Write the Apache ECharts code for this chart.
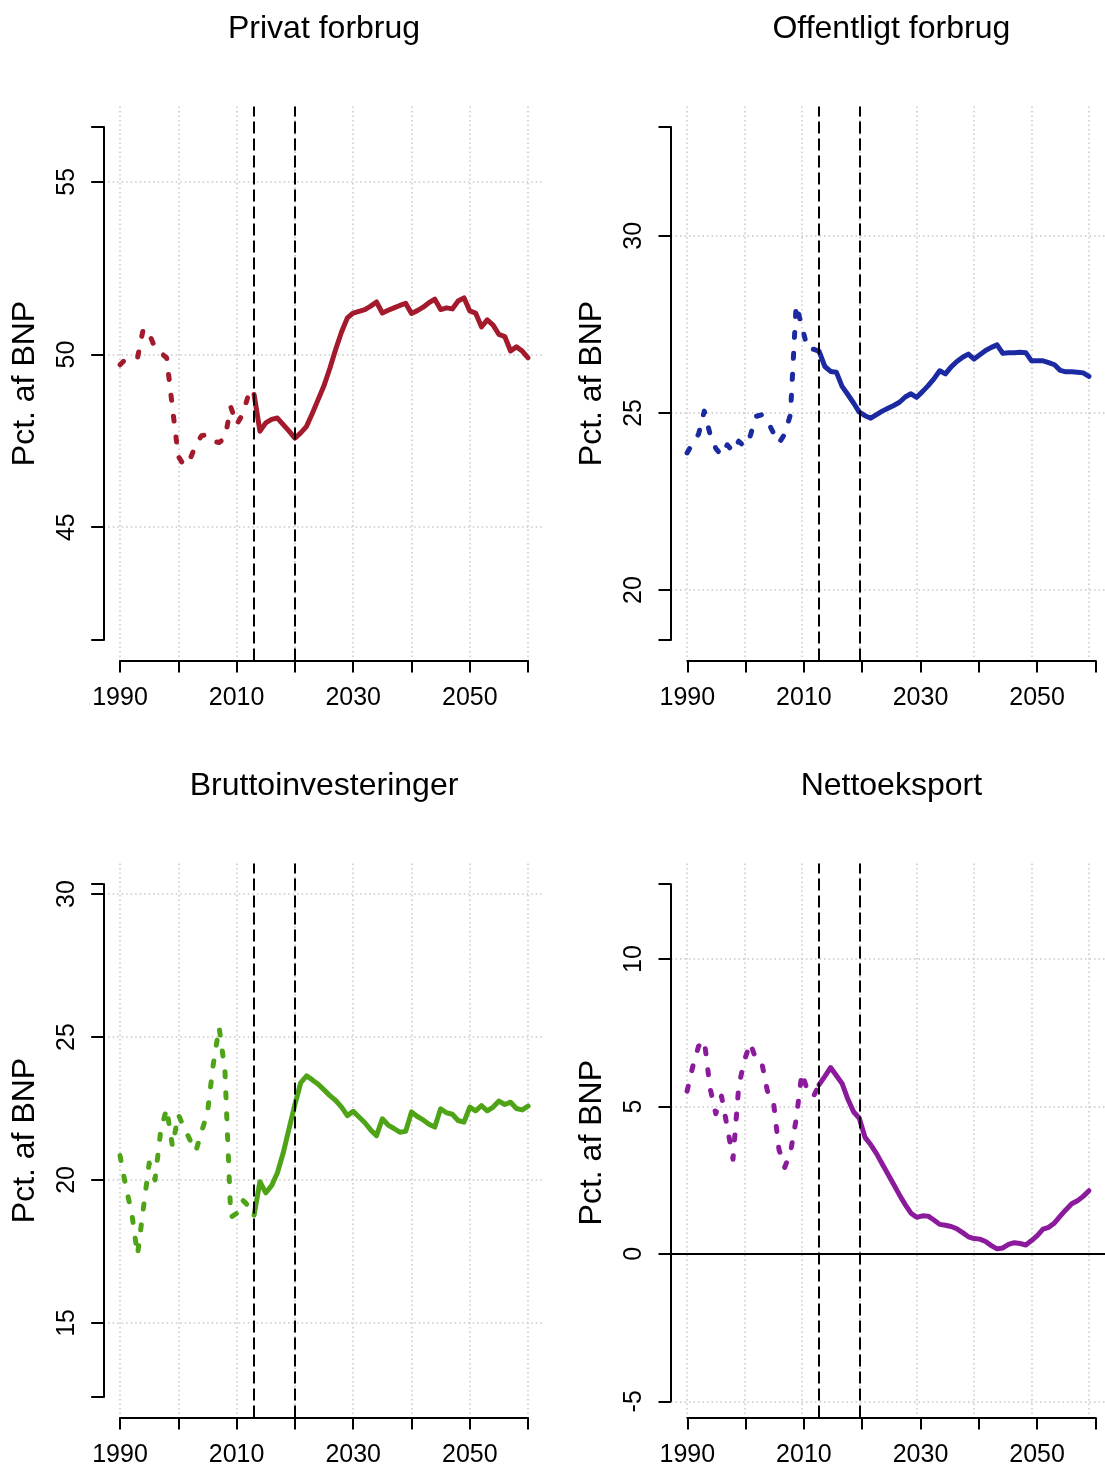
<!DOCTYPE html>
<html>
<head>
<meta charset="utf-8">
<script src="https://cdn.jsdelivr.net/npm/echarts@6/dist/echarts.min.js"></script>
<style>
html, body { margin: 0; padding: 0; background: #fff; }
#main { width: 1105px; height: 1468px; }
</style>
</head>
<body>
<div id="main"></div>
<script>
// aarstal 1990-2060
const years = [1990, 1991, 1992, 1993, 1994, 1995, 1996, 1997, 1998, 1999,
  2000, 2001, 2002, 2003, 2004, 2005, 2006, 2007, 2008, 2009,
  2010, 2011, 2012, 2013, 2014, 2015, 2016, 2017, 2018, 2019,
  2020, 2021, 2022, 2023, 2024, 2025, 2026, 2027, 2028, 2029,
  2030, 2031, 2032, 2033, 2034, 2035, 2036, 2037, 2038, 2039,
  2040, 2041, 2042, 2043, 2044, 2045, 2046, 2047, 2048, 2049,
  2050, 2051, 2052, 2053, 2054, 2055, 2056, 2057, 2058, 2059, 2060]

const privat = [49.70, 49.87, 49.88, 49.90, 50.75, 50.60, 50.19, 50.05, 49.90, 48.45,
  47.05, 46.78, 46.96, 47.39, 47.65, 47.68, 47.49, 47.45, 47.58, 48.48,
  47.97, 48.26, 48.81, 48.84, 47.78, 48.02, 48.12, 48.16, 47.97, 47.78,
  47.58, 47.73, 47.92, 48.30, 48.70, 49.10, 49.60, 50.15, 50.65, 51.06,
  51.20, 51.25, 51.30, 51.40, 51.52, 51.20, 51.28, 51.35, 51.42, 51.48,
  51.19, 51.27, 51.37, 51.50, 51.60, 51.30, 51.35, 51.32, 51.55, 51.64,
  51.26, 51.20, 50.80, 51.00, 50.85, 50.58, 50.52, 50.10, 50.22, 50.10, 49.90]

const offentligt = [23.87, 24.15, 24.40, 25.05, 24.40, 24.00, 23.80, 24.10, 23.90, 24.20,
  24.05, 24.35, 24.90, 24.95, 24.77, 24.45, 24.15, 24.40, 24.95, 28.05,
  27.45, 26.80, 26.80, 26.74, 26.31, 26.17, 26.15, 25.75, 25.52, 25.28,
  25.02, 24.92, 24.85, 24.95, 25.05, 25.13, 25.21, 25.30, 25.45, 25.54,
  25.44, 25.60, 25.77, 25.96, 26.19, 26.10, 26.30, 26.45, 26.57, 26.66,
  26.52, 26.64, 26.76, 26.85, 26.92, 26.68, 26.70, 26.70, 26.71, 26.70,
  26.47, 26.47, 26.47, 26.42, 26.36, 26.20, 26.16, 26.16, 26.15, 26.13, 26.03]

const brutto = [20.85, 19.76, 18.85, 17.38, 19.00, 20.59, 20.00, 21.76, 22.50, 21.17,
  22.29, 21.82, 21.40, 21.00, 21.70, 22.35, 24.05, 25.34, 23.81, 18.70,
  18.83, 19.30, 19.10, 18.77, 19.94, 19.55, 19.80, 20.25, 20.95, 21.80,
  22.64, 23.40, 23.64, 23.50, 23.35, 23.15, 22.95, 22.78, 22.55, 22.25,
  22.40, 22.20, 22.00, 21.75, 21.55, 22.14, 21.92, 21.80, 21.67, 21.70,
  22.38, 22.22, 22.10, 21.95, 21.85, 22.49, 22.35, 22.30, 22.08, 22.02,
  22.55, 22.42, 22.60, 22.42, 22.55, 22.76, 22.64, 22.72, 22.50, 22.45, 22.58]

const netto = [5.52, 6.36, 7.04, 7.24, 5.63, 4.75, 5.35, 4.30, 3.21, 5.69,
  6.57, 7.15, 6.60, 6.50, 5.52, 5.24, 3.55, 2.93, 3.43, 4.56,
  6.14, 5.52, 5.33, 5.74, 6.02, 6.32, 6.05, 5.78, 5.25, 4.82,
  4.60, 3.95, 3.70, 3.40, 3.05, 2.70, 2.35, 2.00, 1.67, 1.38,
  1.24, 1.29, 1.28, 1.15, 1.00, 0.97, 0.93, 0.85, 0.72, 0.58,
  0.52, 0.50, 0.42, 0.28, 0.17, 0.20, 0.32, 0.38, 0.35, 0.30,
  0.45, 0.62, 0.84, 0.90, 1.05, 1.28, 1.50, 1.70, 1.80, 1.95, 2.14]

const titles = ['Privat forbrug', 'Offentligt forbrug', 'Bruttoinvesteringer', 'Nettoeksport']
const colors = ['#A21A2B', '#1B2AA0', '#4EA317', '#8C1A9C']
// hele plotområdet (usr) og den tegnede akselinje
const yUsr = [[41.14, 57.18], [18.01, 33.65], [11.69, 31.07], [-5.55, 13.24]]
const yLine = [[41.73, 56.59], [18.59, 33.07], [12.41, 30.35], [-5.0, 12.54]]
const yTicks = [[45, 50, 55], [20, 25, 30], [15, 20, 25, 30], [-5, 0, 5, 10]]
const xUsr = [1987.2, 2062.8]
const xLine = [1990, 2060]
const xTicks = [1990, 2000, 2010, 2020, 2030, 2040, 2050, 2060]
const xLabels = [1990, 2010, 2030, 2050]
const splitYear = 2013
const markYears = [2013, 2020]

const allData = [privat, offentligt, brutto, netto]
const font = 'Liberation Sans, Arial, sans-serif'
const gridStyle = { color: '#C8C8C8', width: 1.5, type: [1.5, 3] }
const axisStyle = { color: '#000', width: 2 }

let myChart = echarts.init(document.getElementById('main'), null, { renderer: 'canvas' })

let grids = [], xAxes = [], yAxes = [], series = [], title = []
const cut = years.indexOf(splitYear)

for (let i = 0; i < 4; i++) {
  const dx = (i % 2) * 567.3
  const dy = Math.floor(i / 2) * 757
  const plotL = 103.7 + dx, plotT = 106.5 + dy, plotW = 440.7, plotH = 554
  const [u0, u1] = yUsr[i]
  const [a0, a1] = yLine[i]
  const ky = plotH / (u1 - u0)
  const kx = plotW / (xUsr[1] - xUsr[0])
  const axT = plotT + (u1 - a1) * ky, axH = (a1 - a0) * ky
  const axL = plotL + (xLine[0] - xUsr[0]) * kx, axW = (xLine[1] - xLine[0]) * kx

  // plotområde (med 4% luft som i R)
  grids.push({ left: plotL, top: plotT, width: plotW, height: plotH })
  // akser
  grids.push({ left: axL, top: axT, width: axW, height: axH })

  xAxes.push({
    type: 'value', gridIndex: 2 * i, min: xUsr[0], max: xUsr[1],
    axisLine: { show: false, onZero: false },
    axisTick: { show: false, customValues: xTicks },
    axisLabel: { show: false },
    splitLine: { show: true, lineStyle: gridStyle }
  })
  xAxes.push({
    type: 'value', gridIndex: 2 * i + 1, min: xLine[0], max: xLine[1], position: 'bottom',
    offset: plotT + plotH - (axT + axH),
    axisLine: { show: true, onZero: false, lineStyle: axisStyle },
    axisTick: { show: true, length: 12, customValues: xTicks, lineStyle: axisStyle },
    axisLabel: {
      show: true, customValues: xLabels, margin: 25, fontSize: 25, color: '#000', fontFamily: font,
      formatter: v => String(v)
    },
    splitLine: { show: false }
  })
  yAxes.push({
    type: 'value', gridIndex: 2 * i, min: u0, max: u1,
    axisLine: { show: false, onZero: false },
    axisTick: { show: false, customValues: yTicks[i] },
    axisLabel: { show: false },
    splitLine: { show: true, lineStyle: gridStyle }
  })
  yAxes.push({
    type: 'value', gridIndex: 2 * i + 1, min: a0, max: a1, position: 'left',
    offset: axL - plotL,
    name: 'Pct. af BNP', nameLocation: 'middle', nameGap: 63, nameRotate: 90,
    nameTextStyle: { fontSize: 32, color: '#000', fontFamily: font },
    axisLine: { show: true, onZero: false, lineStyle: axisStyle },
    axisTick: { show: true, length: 12.5, customValues: [a0].concat(yTicks[i], [a1]), lineStyle: axisStyle },
    axisLabel: {
      show: true, customValues: yTicks[i], rotate: 90, margin: 24, fontSize: 25, color: '#000', fontFamily: font,
      formatter: v => String(v)
    },
    splitLine: { show: false }
  })

  title.push({
    text: titles[i], left: plotL + plotW / 2 - 5, top: 8 + dy, textAlign: 'center',
    textStyle: { fontSize: 32, fontWeight: 'normal', color: '#000', fontFamily: font }
  })

  const pairs = years.map((y, k) => [y, allData[i][k]])
  let marks = markYears.map(y => ({ xAxis: y, lineStyle: { color: '#000', width: 2, type: [12, 5] } }))
  if (i === 3) marks.push({ yAxis: 0, lineStyle: { color: '#000', width: 2, type: 'solid' } })

  series.push({
    type: 'line', xAxisIndex: 2 * i, yAxisIndex: 2 * i,
    data: pairs.slice(0, cut + 1), showSymbol: false, silent: true,
    lineStyle: { color: colors[i], width: 5, type: [5, 16], cap: 'round', join: 'round' }
  })
  series.push({
    type: 'line', xAxisIndex: 2 * i, yAxisIndex: 2 * i,
    data: pairs.slice(cut), showSymbol: false, silent: true,
    lineStyle: { color: colors[i], width: 5, type: 'solid', cap: 'round', join: 'round' },
    markLine: { silent: true, symbol: 'none', label: { show: false }, animation: false, data: marks }
  })
}

myChart.setOption({
  animation: false,
  backgroundColor: '#fff',
  title: title,
  grid: grids,
  xAxis: xAxes,
  yAxis: yAxes,
  series: series
})
</script>
</body>
</html>
